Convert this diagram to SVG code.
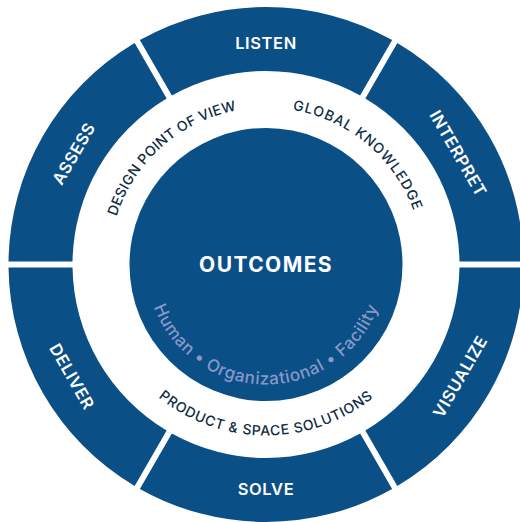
<svg xmlns="http://www.w3.org/2000/svg" xmlns:xlink="http://www.w3.org/1999/xlink" width="520" height="522" viewBox="0 0 520 522">
<style>
.seg{fill:#0b4f87}
.out{font-family:Inter,"Liberation Sans",sans-serif;font-weight:600;font-size:16.5px;fill:#ffffff;text-anchor:middle;letter-spacing:0.6px}
.mid{font-family:Inter,"Liberation Sans",sans-serif;font-weight:500;font-size:14px;fill:#0f2d45;text-anchor:middle}
.inn{font-family:Inter,"Liberation Sans",sans-serif;font-weight:500;font-size:17px;fill:#8898c8;text-anchor:middle;letter-spacing:0.6px}
.core{font-family:Inter,"Liberation Sans",sans-serif;font-weight:700;font-size:21px;fill:#ffffff;text-anchor:middle;letter-spacing:1.4px}
</style>
<defs>
<path id="seg" d="M -126.143 -224.486 A 257.5 257.5 0 0 1 126.143 -224.486 L 94.140 -169.056 A 193.5 193.5 0 0 0 -94.140 -169.056 Z"/>
<path id="arcDesign" d="M 132.14 346.53 A 157 157 0 0 1 363.73 141.63"/>
<path id="arcGlobal" d="M 165.08 144.23 A 157 157 0 0 1 401.97 343.0"/>
<path id="arcProduct" d="M 97.60 294.19 A 171 171 0 0 0 434.40 294.19"/>
<path id="arcInner" d="M 146.46 274.96 A 120 120 0 0 0 385.54 274.96"/>
</defs>
<rect width="520" height="522" fill="#ffffff"/>
<g id="connectors"></g>
<g id="listen">
<use xlink:href="#seg" class="seg" transform="translate(266,264.5)"/>
<text class="out" transform="translate(266,42.5)" x="0" y="6">LISTEN</text>
</g>
<g id="interpret">
<use xlink:href="#seg" class="seg" transform="translate(266,264.5) rotate(60)"/>
<text class="out" transform="translate(458.26,153.5) rotate(60)" x="0" y="6">INTERPRET</text>
</g>
<g id="visualize">
<use xlink:href="#seg" class="seg" transform="translate(266,264.5) rotate(120)"/>
<text class="out" transform="translate(459.99,376.5) rotate(-60)" x="0" y="6">VISUALIZE</text>
</g>
<g id="solve">
<use xlink:href="#seg" class="seg" transform="translate(266,264.5) rotate(180)"/>
<text class="out" transform="translate(266,488.5)" x="0" y="6">SOLVE</text>
</g>
<g id="deliver">
<use xlink:href="#seg" class="seg" transform="translate(266,264.5) rotate(240)"/>
<text class="out" transform="translate(72.01,376.5) rotate(60)" x="0" y="6">DELIVER</text>
</g>
<g id="assess">
<use xlink:href="#seg" class="seg" transform="translate(266,264.5) rotate(300)"/>
<text class="out" transform="translate(73.74,153.5) rotate(-60)" x="0" y="6">ASSESS</text>
</g>
<g id="design-point-of-view">
<text class="mid" style="letter-spacing:0.3px"><textPath xlink:href="#arcDesign" startOffset="50%">DESIGN POINT OF VIEW</textPath></text>
</g>
<g id="global-knowledge">
<text class="mid" style="letter-spacing:1px"><textPath xlink:href="#arcGlobal" startOffset="50%">GLOBAL KNOWLEDGE</textPath></text>
</g>
<g id="product-space-solutions">
<text class="mid" style="letter-spacing:0.7px"><textPath xlink:href="#arcProduct" startOffset="50%">PRODUCT &amp; SPACE SOLUTIONS</textPath></text>
</g>
<g id="outcomes">
<circle cx="266" cy="264.5" r="136.5" class="seg"/>
<text class="core" x="266" y="272">OUTCOMES</text>
<text class="inn"><textPath xlink:href="#arcInner" startOffset="50%">Human • Organizational • Facility</textPath></text>
</g>
</svg>
